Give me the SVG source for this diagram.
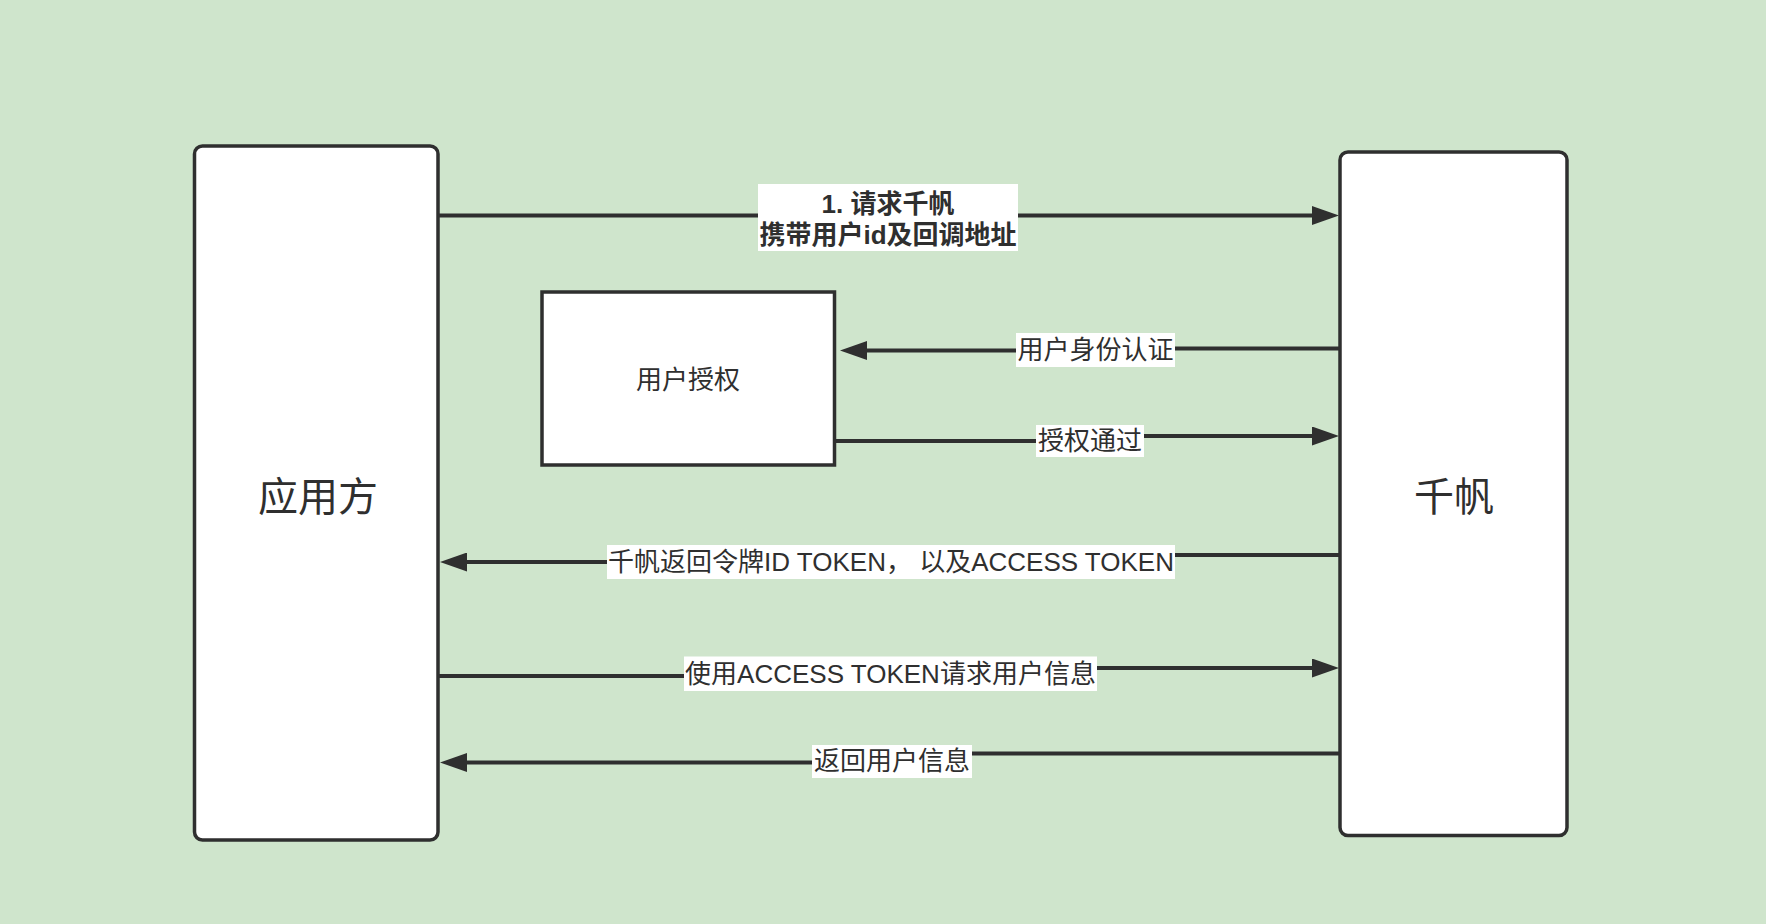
<svg xmlns="http://www.w3.org/2000/svg" width="1766" height="924" viewBox="0 0 1766 924">
<style>
.box{fill:#ffffff;stroke:#2f2f2f;stroke-width:3.5}
.line{fill:none;stroke:#2f2f2f;stroke-width:4}
.lbg{fill:#ffffff}
.t{font-family:"Liberation Sans","Noto Sans CJK SC",sans-serif;fill:#2f2f2f;text-anchor:middle;dominant-baseline:central}
.lab{font-size:26px}
.title{font-size:40px}
.bold{font-weight:bold}
</style>
<defs>
<marker id="arr" markerUnits="userSpaceOnUse" markerWidth="27" markerHeight="19" refX="17" refY="9.5" orient="auto">
<path d="M0,0 L27,9.5 L0,19 Z" fill="#2f2f2f"/>
</marker>
</defs>
<rect x="0" y="0" width="1766" height="924" fill="#cfe5cc"/>
<g id="node-app">
<rect class="box" x="194.5" y="146" width="243.5" height="694" rx="8"/>
<text class="t title" x="318" y="497">应用方</text>
</g>
<g id="node-qianfan">
<rect class="box" x="1340" y="152" width="227" height="683.5" rx="8"/>
<text class="t title" x="1454" y="497">千帆</text>
</g>
<g id="node-auth">
<rect class="box" x="542" y="292" width="292.5" height="173"/>
<text class="t lab" x="688" y="380">用户授权</text>
</g>
<g id="connectors">
<path class="line" d="M438,215.5 L1329,215.5" marker-end="url(#arr)"/>
<rect class="lbg" x="758" y="184" width="260" height="67"/>
<text class="t lab bold" x="888" y="204">1. 请求千帆</text>
<text class="t lab bold" x="888" y="235">携带用户id及回调地址</text>

<path class="line" d="M1339,348.5 L1095,348.5 L1095,350.5 L850,350.5" marker-end="url(#arr)"/>
<rect class="lbg" x="1016" y="333" width="159" height="34"/>
<text class="t lab" x="1095.5" y="350">用户身份认证</text>

<path class="line" d="M836,441 L1090,441 L1090,436 L1329,436" marker-end="url(#arr)"/>
<rect class="lbg" x="1036" y="425" width="108" height="32"/>
<text class="t lab" x="1090" y="441">授权通过</text>

<path class="line" d="M1339,555 L890,555 L890,562 L450,562" marker-end="url(#arr)"/>
<rect class="lbg" x="607" y="545" width="568" height="34"/>
<text class="t lab" x="891" y="562">千帆返回令牌ID TOKEN， 以及ACCESS TOKEN</text>

<path class="line" d="M438,676 L890,676 L890,668 L1329,668" marker-end="url(#arr)"/>
<rect class="lbg" x="684" y="656.5" width="413" height="34.5"/>
<text class="t lab" x="890.5" y="674">使用ACCESS TOKEN请求用户信息</text>

<path class="line" d="M1339,753.5 L892,753.5 L892,762.5 L450,762.5" marker-end="url(#arr)"/>
<rect class="lbg" x="812" y="745" width="160" height="33"/>
<text class="t lab" x="892" y="761">返回用户信息</text>
</g>
</svg>
